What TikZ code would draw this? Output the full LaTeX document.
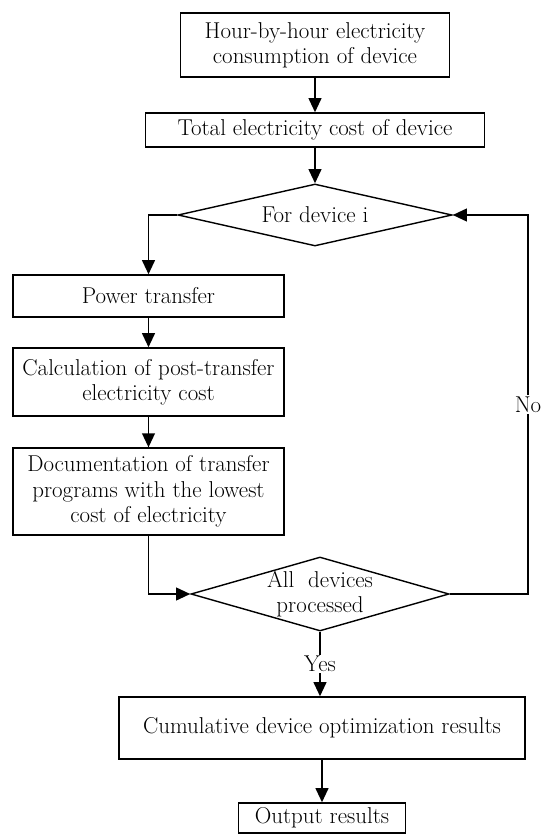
\documentclass[tikz,border=0pt]{standalone}
\usepackage{tikz}
\usetikzlibrary{arrows.meta,positioning,shapes.geometric}

\begin{document}
\begin{tikzpicture}[
    x=0.025cm, y=-0.025cm,
    >={Triangle[length=10pt,width=9pt]},
    font=\fontsize{16.3}{18}\selectfont,
    line width=1pt,
    stage/.style={draw, line width=1pt, align=center, inner sep=2pt},
    decision/.style={draw, diamond, line width=1pt, align=center,
      aspect=4, inner sep=0pt},
    flow/.style={->, line width=1.4pt},
    lbl/.style={fill=white, inner sep=1pt},
  ]
  \useasboundingbox (0,0) rectangle (550,840);

  % Top: consumption and cost
  \node[stage, minimum width=6.72cm, minimum height=1.6cm] (hourly) at (315,45)
    {Hour-by-hour electricity\\consumption of device};
  \node[stage, minimum width=8.47cm, minimum height=0.85cm] (totalcost) at (315,130)
    {Total electricity cost of device};

  % Loop over devices
  \node[decision, minimum width=6.85cm, minimum height=1.55cm] (fordevice) at (315,215)
    {For device i};
  \node[stage, minimum width=6.77cm, minimum height=1.05cm] (transfer) at (148.5,296)
    {Power transfer};
  \node[stage, minimum width=6.77cm, minimum height=1.7cm] (postcost) at (148.5,382)
    {Calculation of post-transfer\\electricity cost};
  \node[stage, minimum width=6.77cm, minimum height=2.17cm] (document) at (148.5,491.5)
    {Documentation of transfer\\programs with the lowest\\cost of electricity};
  \node[decision, aspect=3.5, inner sep=-3pt, minimum width=6.45cm, minimum height=1.85cm] (alldone) at (320,594)
    {All~ devices\\processed};

  % Results
  \node[stage, minimum width=10.15cm, minimum height=1.55cm] (cumulative) at (322,728)
    {Cumulative device optimization results};
  \node[stage, minimum width=4.17cm, minimum height=0.75cm] (output) at (322,818)
    {Output results};

  \coordinate (loopback) at (528,594);

  % Edges
  \draw[flow] (hourly) -- (totalcost);
  \draw[flow] (totalcost) -- (fordevice);
  \draw[flow] (fordevice.west) -| (transfer.north);
  \draw[flow] (transfer) -- (postcost);
  \draw[flow] (postcost) -- (document);
  \draw[flow] (document.south) |- (alldone.west);
  \draw[flow] (alldone.east) -- (loopback) |- node[lbl, pos=0.25] {No} (fordevice.east);
  \draw[flow] (alldone.south) -- node[lbl] {Yes} (alldone.south |- cumulative.north);
  \draw[flow] (cumulative.south -| output.north) -- (output.north);
\end{tikzpicture}
\end{document}
